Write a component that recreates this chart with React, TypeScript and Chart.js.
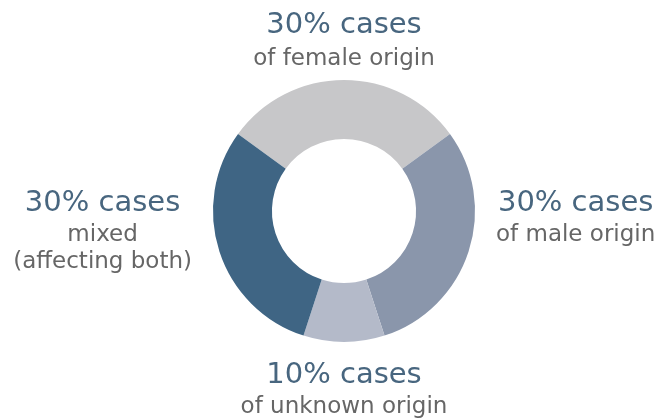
import React, { useEffect, useRef } from "react";
import { Chart, registerables } from "chart.js";

Chart.register(...registerables);

const categories = ["female", "male", "unknown", "mixed"];
const values = [30, 30, 10, 30];
const headlines = ["30% cases", "30% cases", "10% cases", "30% cases"];
const sublines = [
  ["of female origin"],
  ["of male origin"],
  ["of unknown origin"],
  ["mixed", "(affecting both)"],
];
const colors = ["#c7c7c9", "#8a96ab", "#b4bac9", "#3f6584"];

const FONT = "'DejaVu Sans', sans-serif";
const HEAD_SIZE = 29;
const SUB_SIZE = 23;
const HEAD_COLOR = "#48667f";
const SUB_COLOR = "#666666";

const labelPlugin = {
  id: "sideLabels",
  afterDraw(chart: any) {
    const ctx = chart.ctx;
    const meta = chart.getDatasetMeta(0);
    meta.data.forEach((arc: any, i: number) => {
      const p = arc.getProps(["x", "y", "startAngle", "endAngle", "outerRadius"], true);
      const mid = (p.startAngle + p.endAngle) / 2;
      const cx = p.x;
      const cy = p.y;
      const R = p.outerRadius;
      const head = headlines[i];
      const subs = sublines[i];
      ctx.save();
      ctx.textBaseline = "alphabetic";
      ctx.textAlign = "center";
      const c = Math.cos(mid);
      const s = Math.sin(mid);
      const side = Math.abs(c) > 0.7;
      let x = cx;
      let headY = cy;
      if (side) {
        ctx.font = `${HEAD_SIZE}px ${FONT}`;
        let w = ctx.measureText(head).width;
        ctx.font = `${SUB_SIZE}px ${FONT}`;
        subs.forEach((t) => (w = Math.max(w, ctx.measureText(t).width)));
        const gap = 21;
        x = c > 0 ? cx + R + gap + w / 2 : cx - R - gap - w / 2;
        headY = cy;
      } else if (s < 0) {
        const lastBase = cy - R - 15;
        headY = lastBase - 32 - (subs.length - 1) * 27;
      } else {
        headY = cy + R + 41;
      }
      ctx.font = `${HEAD_SIZE}px ${FONT}`;
      ctx.fillStyle = HEAD_COLOR;
      ctx.fillText(head, x, headY);
      ctx.font = `${SUB_SIZE}px ${FONT}`;
      ctx.fillStyle = SUB_COLOR;
      subs.forEach((t, k) => {
        ctx.fillText(t, x, headY + (!side && s < 0 ? 32 : 30) + k * 27);
      });
      ctx.restore();
    });
  },
};

export default function App() {
  const ref = useRef<HTMLCanvasElement | null>(null);
  useEffect(() => {
    if (!ref.current) return;
    const chart = new Chart(ref.current, {
      type: "doughnut",
      data: {
        labels: categories,
        datasets: [
          {
            data: values,
            backgroundColor: colors,
            borderWidth: 0,
          },
        ],
      },
      options: {
        responsive: false,
        animation: false,
        devicePixelRatio: 1,
        rotation: -54,
        cutout: "55%",
        layout: { padding: { top: 80, bottom: 78, left: 213, right: 185 } },
        plugins: {
          legend: { display: false },
          tooltip: { enabled: false },
        },
      },
      plugins: [labelPlugin],
    } as any);
    return () => chart.destroy();
  }, []);
  return (
    <div style={{ position: "fixed", left: 0, top: 0, width: 660, height: 420, background: "#fff" }}>
      <canvas ref={ref} width={660} height={420} />
    </div>
  );
}
